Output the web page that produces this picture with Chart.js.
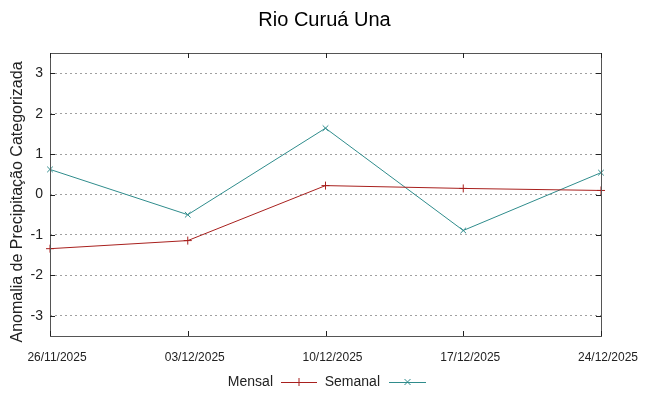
<!DOCTYPE html>
<html>
<head>
<meta charset="utf-8">
<script src="https://cdn.jsdelivr.net/npm/chart.js@4/dist/chart.umd.min.js"></script>
<style>
html,body{margin:0;padding:0;background:#fff;}
canvas{display:block;}
</style>
</head>
<body>
<canvas id="c" width="648" height="396"></canvas>
<script>
const chartTitle = "Rio Curuá Una";
const yAxisTitle = "Anomalia de Precipitação Categorizada";
const categories = ["26/11/2025", "03/12/2025", "10/12/2025", "17/12/2025", "24/12/2025"];
const mensal = [-1.34, -1.14, 0.22, 0.15, 0.10];
const semanal = [0.62, -0.50, 1.64, -0.89, 0.54];
const yTicks = [-3, -2, -1, 0, 1, 2, 3];
const seriesNames = ["Mensal", "Semanal"];

const RED = '#a8201e';
const TEAL = '#2f8c8c';
const FONT = "'Liberation Sans', Arial, sans-serif";

const framePlugin = {
  id: 'frame',
  afterDraw(chart) {
    const ctx = chart.ctx;
    const a = chart.chartArea;
    const xs = chart.scales.x, ys = chart.scales.y;
    ctx.save();
    // border
    ctx.strokeStyle = '#555';
    ctx.lineWidth = 1;
    ctx.strokeRect(Math.round(a.left) + 0.5, Math.round(a.top) + 0.5, Math.round(a.right - a.left), Math.round(a.bottom - a.top));
    // ticks
    ctx.strokeStyle = '#222';
    ctx.beginPath();
    const L = 5;
    yTicks.forEach(v => {
      const y = Math.round(ys.getPixelForValue(v)) + 0.5;
      ctx.moveTo(a.left, y); ctx.lineTo(a.left + L, y);
      ctx.moveTo(a.right, y); ctx.lineTo(a.right - L, y);
    });
    categories.forEach((c, i) => {
      const x = Math.round(xs.getPixelForValue(i)) + 0.5;
      ctx.moveTo(x, a.bottom); ctx.lineTo(x, a.bottom - L);
      ctx.moveTo(x, a.top); ctx.lineTo(x, a.top + L);
    });
    ctx.stroke();
    // title
    ctx.fillStyle = '#000';
    ctx.font = "20px " + FONT;
    ctx.textAlign = 'center';
    ctx.textBaseline = 'middle';
    ctx.fillText(chartTitle, 324.5, 20);
    // y title
    ctx.save();
    ctx.translate(18, 202);
    ctx.rotate(-Math.PI / 2);
    ctx.font = "16px " + FONT;
    ctx.fillStyle = '#222';
    ctx.fillText(yAxisTitle, 0, 0);
    ctx.restore();
    // legend
    ctx.font = "14px " + FONT;
    ctx.textAlign = 'right';
    ctx.fillStyle = '#222';
    const ly = 382;
    const items = [
      {name: seriesNames[0], textRight: 273, x0: 281, x1: 317, color: RED, marker: 'plus'},
      {name: seriesNames[1], textRight: 380, x0: 389, x1: 426, color: TEAL, marker: 'x'}
    ];
    items.forEach(it => {
      ctx.fillStyle = '#222';
      ctx.fillText(it.name, it.textRight, ly);
      ctx.strokeStyle = it.color;
      ctx.lineWidth = 1;
      ctx.beginPath();
      ctx.moveTo(it.x0, ly + 0.5); ctx.lineTo(it.x1, ly + 0.5);
      const cx = (it.x0 + it.x1) / 2, r = 4;
      if (it.marker === 'plus') {
        ctx.moveTo(cx, ly - r); ctx.lineTo(cx, ly + r);
      } else {
        ctx.moveTo(cx - 3, ly - 3); ctx.lineTo(cx + 3, ly + 3);
        ctx.moveTo(cx - 3, ly + 3); ctx.lineTo(cx + 3, ly - 3);
      }
      ctx.stroke();
    });
    ctx.restore();
  }
};

new Chart(document.getElementById('c'), {
  type: 'line',
  data: {
    labels: categories,
    datasets: [
      {label: seriesNames[0], data: mensal, borderColor: RED, backgroundColor: RED, borderWidth: 1,
       pointStyle: 'cross', pointRadius: 4, pointBorderWidth: 1, tension: 0, fill: false},
      {label: seriesNames[1], data: semanal, borderColor: TEAL, backgroundColor: TEAL, borderWidth: 1,
       pointStyle: 'crossRot', pointRadius: 4, pointBorderWidth: 1, tension: 0, fill: false}
    ]
  },
  options: {
    responsive: false,
    animation: false,
    layout: {padding: {left: 0, right: 47, top: 53, bottom: 0}},
    plugins: {legend: {display: false}, title: {display: false}, tooltip: {enabled: false}},
    scales: {
      x: {
        type: 'category',
        offset: false,
        grid: {display: false, drawTicks: false},
        border: {display: false},
        ticks: {font: {family: FONT, size: 12}, color: '#222', padding: 14, labelOffset: 7, maxRotation: 0, autoSkip: false},
        afterFit(s) { s.height = 60; }
      },
      y: {
        min: -3.5, max: 3.5,
        afterBuildTicks(s) { s.ticks = yTicks.map(v => ({value: v})); },
        grid: {color: '#a0a0a0', drawTicks: false, lineWidth: 1},
        border: {display: false, dash: [2, 3]},
        ticks: {font: {family: FONT, size: 14}, color: '#222', padding: 7},
        afterFit(s) { s.width = 50; }
      }
    }
  },
  plugins: [framePlugin]
});
</script>
</body>
</html>
